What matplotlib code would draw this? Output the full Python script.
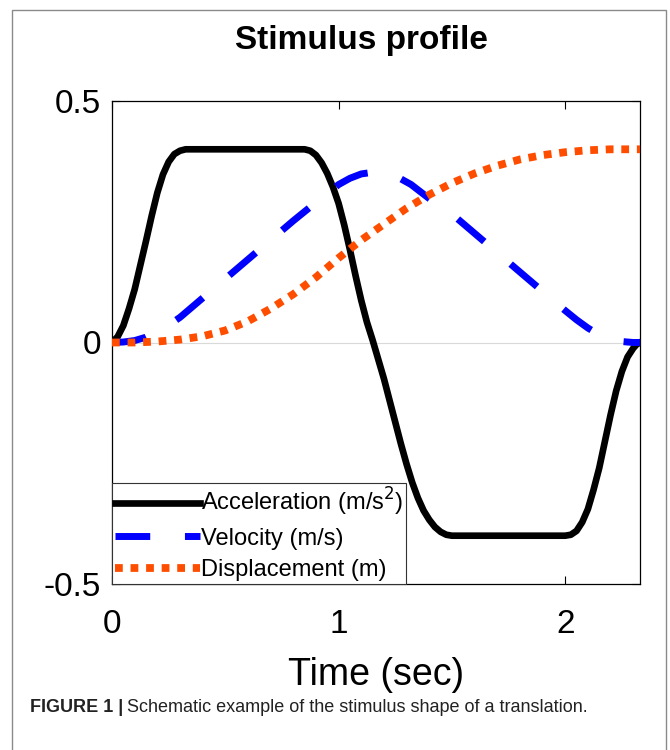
import matplotlib
matplotlib.use("Agg")
import matplotlib.pyplot as plt
from matplotlib.patches import Rectangle

plt.rcParams["font.family"] = ["Liberation Sans", "DejaVu Sans"]

# values
acc_t = [0.0, 0.025, 0.05, 0.075, 0.1, 0.125, 0.15, 0.175, 0.2, 0.225, 0.25, 0.275, 0.3, 0.325,
         0.85, 0.875, 0.9, 0.925, 0.95, 0.975, 1.0, 1.025, 1.05, 1.075, 1.1, 1.125, 1.15,
         1.175, 1.2, 1.225, 1.25, 1.275, 1.3, 1.325, 1.35, 1.375, 1.4, 1.425, 1.45, 1.475, 1.5,
         2.0, 2.025, 2.05, 2.075, 2.1, 2.125, 2.15, 2.175, 2.2, 2.225, 2.25, 2.275, 2.3, 2.315, 2.33]
acc = [0.0, 0.012, 0.035, 0.07, 0.11, 0.16, 0.21, 0.262, 0.31, 0.348, 0.374, 0.39, 0.397, 0.4,
       0.4, 0.397, 0.388, 0.372, 0.35, 0.322, 0.288, 0.243, 0.192, 0.138, 0.087, 0.042, 0.005,
       -0.035, -0.075, -0.12, -0.165, -0.21, -0.252, -0.29, -0.322, -0.348, -0.367, -0.382,
       -0.392, -0.398, -0.4,
       -0.4, -0.398, -0.39, -0.372, -0.345, -0.305, -0.26, -0.205, -0.15, -0.1, -0.06, -0.03,
       -0.012, -0.004, 0.0]

vel_t = [0.0, 0.05, 0.1, 0.15, 0.2, 0.25, 0.3, 0.4, 0.5, 0.6, 0.7, 0.8, 0.9, 1.0, 1.05, 1.1,
         1.16, 1.22, 1.27, 1.32, 1.4, 1.5, 1.6, 1.7, 1.8, 1.9, 2.0, 2.05, 2.1, 2.15, 2.2, 2.25,
         2.3, 2.33]
vel = [0.0, 0.001, 0.004, 0.011, 0.022, 0.036, 0.052, 0.092, 0.132, 0.172, 0.212, 0.252, 0.29,
       0.327, 0.34, 0.349, 0.353, 0.349, 0.34, 0.327, 0.298, 0.266, 0.226, 0.186, 0.146, 0.106,
       0.066, 0.047, 0.03, 0.016, 0.007, 0.002, 0.0, 0.0]

disp_t = [0.0, 0.1, 0.2, 0.3, 0.4, 0.5, 0.6, 0.7, 0.8, 0.9, 1.0, 1.1, 1.2, 1.3, 1.4, 1.5,
          1.6, 1.7, 1.8, 1.9, 2.0, 2.1, 2.2, 2.33]
disp = [0.0, 0.0, 0.002, 0.006, 0.013, 0.025, 0.044, 0.07, 0.1, 0.135, 0.175, 0.212, 0.245,
        0.278, 0.306, 0.33, 0.35, 0.366, 0.379, 0.388, 0.394, 0.398, 0.4, 0.4]

labels = ["Acceleration (m/s$^2$)", "Velocity (m/s)", "Displacement (m)"]

fig = plt.figure(figsize=(6.7, 7.5), dpi=100)
fig.patches.append(Rectangle((12 / 670, -0.05), 654 / 670, 1.05 - 10 / 750,
                             transform=fig.transFigure, fill=False,
                             edgecolor="#8a8a8a", linewidth=1.0))

ax = fig.add_axes([112 / 670, 1 - 584 / 750, 528 / 670, 483 / 750])
ax.axhline(0, color="#d9d9d9", linewidth=0.8, zorder=1)
ax.plot(acc_t, acc, color="black", linewidth=4.8, solid_joinstyle="round",
        label=labels[0], zorder=3)
ax.plot(vel_t, vel, color="#0000ff", linewidth=5.0, dashes=(5.0, 5.0),
        label=labels[1], zorder=4)
ax.plot(disp_t, disp, color="#ff4d00", linewidth=5.6, dashes=(1, 1),
        label=labels[2], zorder=5)

ax.set_xlim(0, 2.33)
ax.set_ylim(-0.5, 0.5)
ax.set_xticks([0, 1, 2])
ax.set_yticks([-0.5, 0, 0.5])
ax.set_yticklabels(["-0.5", "0", "0.5"])
ax.tick_params(direction="in", length=6, width=0.8, top=True, right=True, labelsize=24)
ax.tick_params(axis="x", pad=18)
ax.tick_params(axis="y", pad=8)
for s in ax.spines.values():
    s.set_linewidth(0.9)
ax.set_xlabel("Time (sec)", fontsize=27, labelpad=12)

leg = ax.legend(loc="lower left", borderaxespad=0, fontsize=17, handlelength=3.6,
                handletextpad=0.05, labelspacing=0.4, borderpad=0.12,
                fancybox=False, framealpha=1, edgecolor="#333333")
leg.get_frame().set_linewidth(0.8)

fig.text(361 / 670, 1 - 41 / 750, "Stimulus profile", ha="center", va="center",
         fontsize=24, fontweight="bold")

cap_y = 1 - 707 / 750
t1 = fig.text(30 / 670, cap_y, "FIGURE 1 |", ha="left", va="center", fontsize=13,
              fontweight="bold", color="#222222")
fig.canvas.draw()
bb = t1.get_window_extent(renderer=fig.canvas.get_renderer())
fig.text(bb.x1 / 670 + 4 / 670, cap_y, "Schematic example of the stimulus shape of a translation.",
         ha="left", va="center", fontsize=13, color="#222222")

fig.savefig("out.png", dpi=100)
